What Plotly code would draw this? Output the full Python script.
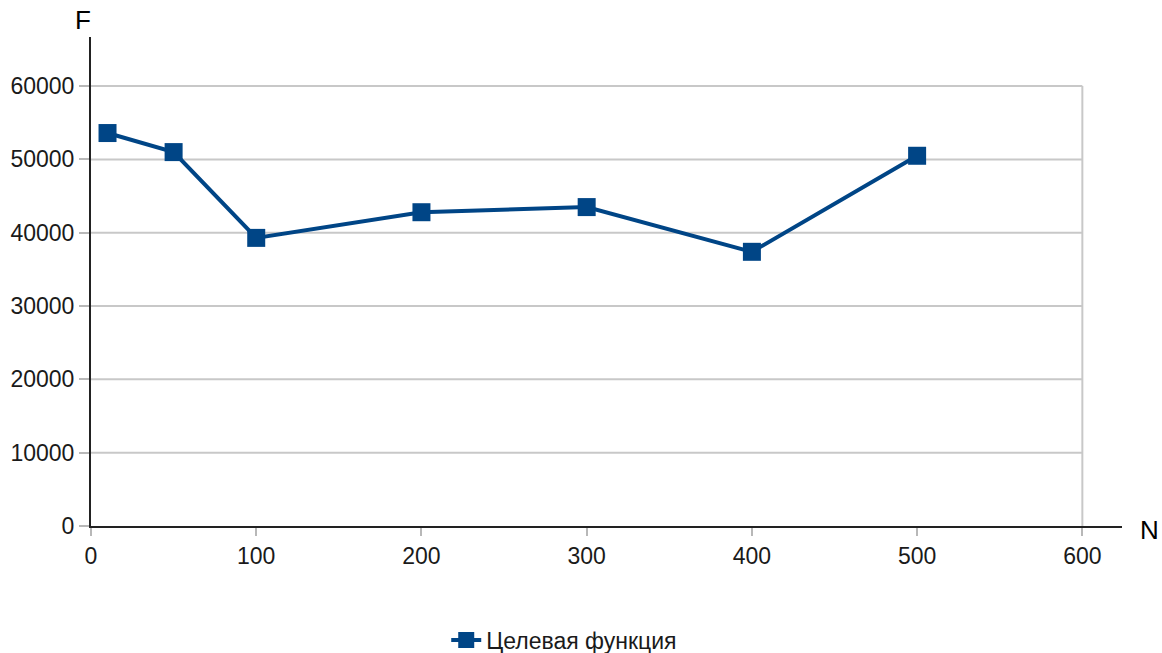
import plotly.graph_objects as go

# Objective function value F versus N
n_values = [10, 50, 100, 200, 300, 400, 500]
f_values = [53600, 51000, 39300, 42800, 43500, 37400, 50500]
series_name = "Целевая функция"

x_ticks = [0, 100, 200, 300, 400, 500, 600]
y_ticks = [0, 10000, 20000, 30000, 40000, 50000, 60000]

SERIES_COLOR = "#004586"
GRID_COLOR = "#c8c8c8"
FONT = "Liberation Sans, Arial, sans-serif"

fig = go.Figure()
fig.add_trace(go.Scatter(
    x=n_values, y=f_values, name=series_name,
    mode="lines+markers",
    line=dict(color=SERIES_COLOR, width=4),
    marker=dict(symbol="square", size=18, color=SERIES_COLOR),
))

# Grid confined to the tick range, axes run a little further
shapes = []
for yv in y_ticks[1:]:
    shapes.append(dict(type="line", xref="x", yref="y",
                       x0=x_ticks[0], x1=x_ticks[-1], y0=yv, y1=yv,
                       line=dict(color=GRID_COLOR, width=2), layer="below"))
shapes.append(dict(type="line", xref="x", yref="y",
                   x0=x_ticks[-1], x1=x_ticks[-1], y0=y_ticks[0], y1=y_ticks[-1],
                   line=dict(color=GRID_COLOR, width=2), layer="below"))

fig.update_layout(
    width=1162, height=653,
    margin=dict(l=91, r=40, t=37, b=127, autoexpand=False),
    plot_bgcolor="white", paper_bgcolor="white",
    font=dict(family=FONT, size=23, color="#1a1a1a"),
    shapes=shapes,
    showlegend=True,
    legend=dict(orientation="h", x=0.459, xanchor="center",
                y=-0.233, yanchor="middle",
                font=dict(size=23, color="#1a1a1a")),
    annotations=[
        dict(text="F", xref="paper", yref="paper", x=-0.008, y=1.0,
             xanchor="center", yanchor="bottom", showarrow=False,
             font=dict(size=26, color="#000")),
        dict(text="N", xref="paper", yref="paper", x=1.0, y=0.0,
             xanchor="left", yanchor="middle", xshift=16, yshift=-4,
             showarrow=False, font=dict(size=26, color="#000")),
    ],
)

fig.update_xaxes(
    range=[0, 624], tickvals=x_ticks, ticktext=[str(v) for v in x_ticks],
    showgrid=False, zeroline=False, automargin=False,
    showline=True, linecolor="#222", linewidth=2,
    ticks="outside", ticklen=8, tickwidth=2, tickcolor="#b8b8b8",
)
fig.update_yaxes(
    range=[0, 66700], tickvals=y_ticks, ticktext=[str(v) for v in y_ticks],
    showgrid=False, zeroline=False, automargin=False,
    showline=True, linecolor="#222", linewidth=2,
    ticks="outside", ticklen=10, tickwidth=2, tickcolor="#b8b8b8",
)

fig.write_html("out.html")
